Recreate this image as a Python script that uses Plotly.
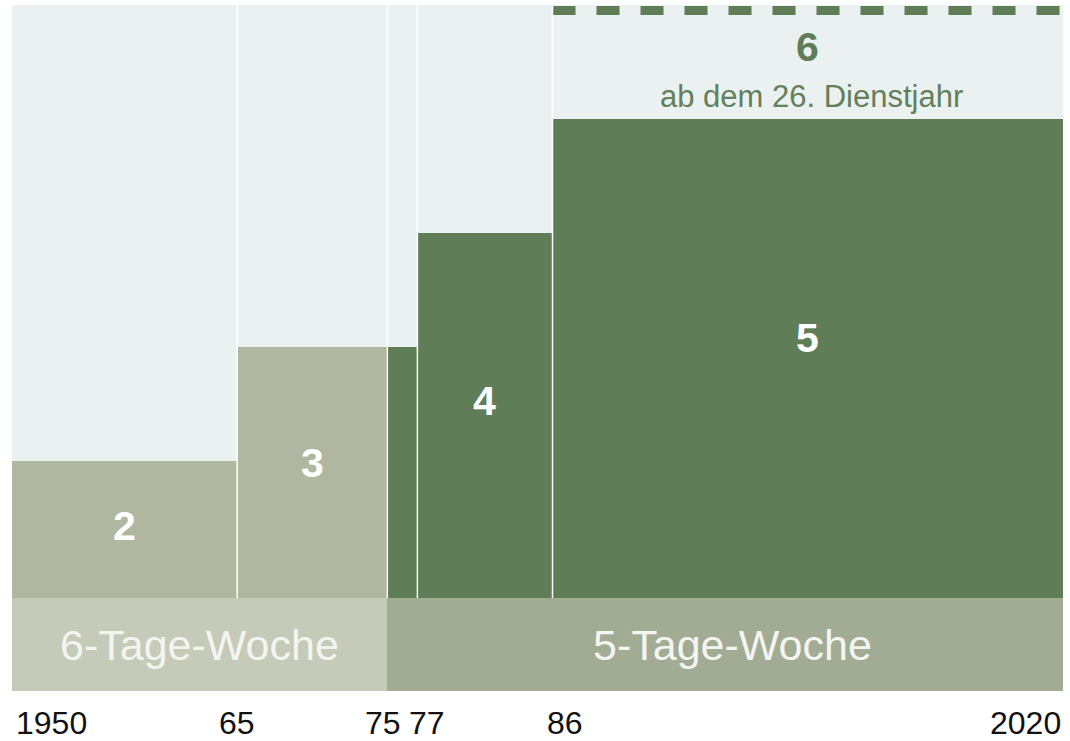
import plotly.graph_objects as go

# ---------------- data ----------------
period_start = [1950, 1965, 1975, 1977, 1986]
period_end = [1965, 1975, 1977, 1986, 2020]
vacation_weeks = [2, 3, 3, 4, 5]
bar_labels = ["2", "3", "", "4", "5"]
bar_colors = ["#b0b7a1", "#b0b7a1", "#5f7d57", "#5f7d57", "#5f7d57"]

workweek_start = [1950, 1975]
workweek_end = [1975, 2020]
workweek_labels = ["6-Tage-Woche", "5-Tage-Woche"]
workweek_colors = ["#c5cab9", "#a2ab93"]

bonus_start = 1986
bonus_end = 2020
bonus_weeks = 6
bonus_label = "6"
bonus_note = "ab dem 26. Dienstjahr"

tick_years = [1950, 1965, 1975, 1977, 1986, 2020]
tick_labels = ["1950", "65", "75", "77", "86", "2020"]

# ---------------- style ----------------
BAND_TOP = 0.8
FONT = "Liberation Sans, Arial, sans-serif"
DARK = "#5f7d57"

fig = go.Figure()

# bars (base 0; lower part hidden by the work-week band)
for s, e, v, c in zip(period_start, period_end, vacation_weeks, bar_colors):
    fig.add_trace(go.Bar(x=[(s + e) / 2], y=[v], width=[e - s], base=0,
                         marker=dict(color=c, line=dict(width=0)),
                         hoverinfo="skip", showlegend=False))

# work-week band
for s, e, c in zip(workweek_start, workweek_end, workweek_colors):
    fig.add_trace(go.Bar(x=[(s + e) / 2], y=[BAND_TOP + 0.015], width=[e - s], base=-0.015,
                         marker=dict(color=c, line=dict(width=0)),
                         hoverinfo="skip", showlegend=False))

# background panel
fig.add_shape(type="rect", xref="x", yref="y", x0=period_start[0], x1=period_end[-1],
              y0=BAND_TOP, y1=bonus_weeks, fillcolor="#ebf1f1", line=dict(width=0),
              layer="below")

# white separators
for s in period_start[1:]:
    fig.add_shape(type="line", xref="x", yref="y", x0=s, x1=s, y0=BAND_TOP, y1=bonus_weeks,
                  line=dict(color="white", width=1.5), layer="above")

# dashed bonus line
fig.add_trace(go.Scatter(x=[bonus_start, bonus_end], y=[bonus_weeks - 0.048] * 2,
                         mode="lines", line=dict(color=DARK, width=9, dash="23px,21px"),
                         hoverinfo="skip", showlegend=False, cliponaxis=False))

annotations = []
for s, e, v, lab in zip(period_start, period_end, vacation_weeks, bar_labels):
    if lab:
        annotations.append(dict(x=(s + e) / 2, y=0.33 + 0.55 * v, text="<b>" + lab + "</b>",
                                showarrow=False, font=dict(family=FONT, size=41, color="white"),
                                xanchor="center", yanchor="middle"))
for s, e, lab in zip(workweek_start, workweek_end, workweek_labels):
    annotations.append(dict(x=(s + e) / 2, y=(BAND_TOP - 0.015) / 2, text=lab,
                            showarrow=False, font=dict(family=FONT, size=43, color="#f4f5f0"),
                            xanchor="center", yanchor="middle",
                            xshift=(0 if s == 1950 else 7)))
annotations.append(dict(x=(bonus_start + bonus_end) / 2, y=5.63, text="<b>" + bonus_label + "</b>",
                        showarrow=False, font=dict(family=FONT, size=41, color=DARK),
                        xanchor="center", yanchor="middle"))
annotations.append(dict(x=(bonus_start + bonus_end) / 2, y=5.2, text=bonus_note,
                        showarrow=False, font=dict(family=FONT, size=31, color="#62805a"),
                        xanchor="center", yanchor="middle", xshift=4))

tick_anchor = ["left", "center", "center", "center", "center", "right"]
tick_shift = [2, 0, -4, 10, 12, 0]
for yv, lab, anc, sh in zip(tick_years, tick_labels, tick_anchor, tick_shift):
    annotations.append(dict(x=yv, y=0, xref="x", yref="paper", text=lab, showarrow=False,
                            font=dict(family=FONT, size=32, color="#111111"),
                            xanchor=anc, yanchor="middle", yshift=-32, xshift=sh))

fig.update_layout(
    width=1070, height=741,
    margin=dict(l=12, r=7, t=5, b=50),
    paper_bgcolor="white", plot_bgcolor="white",
    barmode="overlay", bargap=0,
    xaxis=dict(range=[1950, 2020], showgrid=False, zeroline=False, showticklabels=False,
               ticks="", fixedrange=True),
    yaxis=dict(range=[-0.015, 6.0], showgrid=False, zeroline=False, showticklabels=False,
               ticks="", fixedrange=True),
    annotations=annotations,
    showlegend=False,
)

fig.write_html("out.html", config={"displayModeBar": False},
               post_script="document.body.style.margin='0';document.body.style.padding='0';")
